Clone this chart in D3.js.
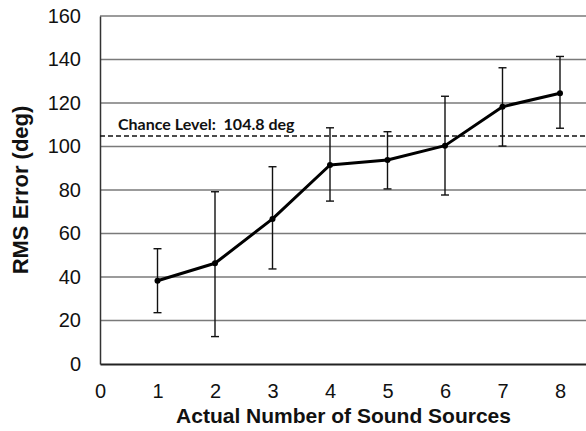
<!DOCTYPE html>
<html><head><meta charset="utf-8">
<script src="https://cdn.jsdelivr.net/npm/d3@7"></script>
<style>body{margin:0;background:#fff}svg{display:block}</style>
</head><body>
<script>
const categories = [1, 2, 3, 4, 5, 6, 7, 8];
const rmsError = [38.3, 46.3, 66.7, 91.5, 93.8, 100.4, 118.3, 124.5];
const errUpper = [53.0, 79.2, 90.7, 108.6, 106.8, 123.1, 136.2, 141.4];
const errLower = [23.6, 12.6, 43.7, 74.9, 80.5, 77.7, 100.2, 108.4];
const xTicks = [0, 1, 2, 3, 4, 5, 6, 7, 8];
const yTicks = [0, 20, 40, 60, 80, 100, 120, 140, 160];
const chanceLevel = 104.8;
const chanceLabel = "Chance Level:  104.8 deg";

const W = 586, H = 431;
const svg = d3.select("body").append("svg").attr("width", W).attr("height", H);
const x = d3.scaleLinear().domain([0, 9]).range([100, 617.5]);
const y = d3.scaleLinear().domain([0, 160]).range([364, 16]);

// gridlines
svg.append("g").selectAll("line").data(yTicks.filter(d => d > 0)).join("line")
  .attr("x1", x(0)).attr("x2", W).attr("y1", d => y(d)).attr("y2", d => y(d))
  .attr("stroke", "#7a7a7a").attr("stroke-width", 1.3);

// axes
const yAxis = d3.axisLeft(y).tickValues(yTicks).tickSize(0).tickPadding(19);
const gy = svg.append("g").attr("transform", `translate(${x(0)},0)`).call(yAxis);
gy.select(".domain").attr("stroke", "#333").attr("stroke-width", 1.5);
gy.selectAll("text").attr("font-family", "Liberation Sans, Arial, sans-serif").attr("font-size", 20).attr("fill", "#111");

const xAxis = d3.axisBottom(x).tickValues(xTicks).tickSize(0).tickPadding(20);
const gx = svg.append("g").attr("transform", `translate(0,${y(0)})`).call(xAxis);
gx.select(".domain").attr("stroke", "#222").attr("stroke-width", 1.8);
gx.selectAll("text").attr("font-family", "Liberation Sans, Arial, sans-serif").attr("font-size", 20).attr("fill", "#111");

// chance line
svg.append("line").attr("x1", x(0)).attr("x2", W).attr("y1", y(chanceLevel)).attr("y2", y(chanceLevel))
  .attr("stroke", "#111").attr("stroke-width", 1.5).attr("stroke-dasharray", "5,3");
svg.append("text").attr("x", 118).attr("y", 130)
  .attr("font-family", "Lato, Open Sans, sans-serif").attr("font-weight", "bold").attr("font-size", 16)
  .attr("fill", "#111").style("white-space", "pre").text(chanceLabel);

// error bars
const eg = svg.append("g").attr("stroke", "#111").attr("stroke-width", 1.4);
categories.forEach((c, i) => {
  eg.append("line").attr("x1", x(c)).attr("x2", x(c)).attr("y1", y(errUpper[i])).attr("y2", y(errLower[i]));
  eg.append("line").attr("x1", x(c) - 4).attr("x2", x(c) + 4).attr("y1", y(errUpper[i])).attr("y2", y(errUpper[i]));
  eg.append("line").attr("x1", x(c) - 4).attr("x2", x(c) + 4).attr("y1", y(errLower[i])).attr("y2", y(errLower[i]));
});

// line
const line = d3.line().x((d, i) => x(categories[i])).y(d => y(d));
svg.append("path").datum(rmsError).attr("d", line).attr("fill", "none")
  .attr("stroke", "#000").attr("stroke-width", 3).attr("stroke-linejoin", "round");
svg.append("g").selectAll("circle").data(rmsError).join("circle")
  .attr("cx", (d, i) => x(categories[i])).attr("cy", d => y(d)).attr("r", 3).attr("fill", "#000");

// titles
svg.append("text").attr("x", 343.5).attr("y", 423).attr("text-anchor", "middle")
  .attr("font-family", "Liberation Sans, Arial, sans-serif").attr("font-weight", "bold").attr("font-size", 21)
  .attr("fill", "#111").text("Actual Number of Sound Sources");
svg.append("text").attr("transform", "translate(28,190) rotate(-90)").attr("text-anchor", "middle")
  .attr("font-family", "Liberation Sans, Arial, sans-serif").attr("font-weight", "bold").attr("font-size", 22)
  .attr("fill", "#111").text("RMS Error (deg)");
</script>
</body></html>
